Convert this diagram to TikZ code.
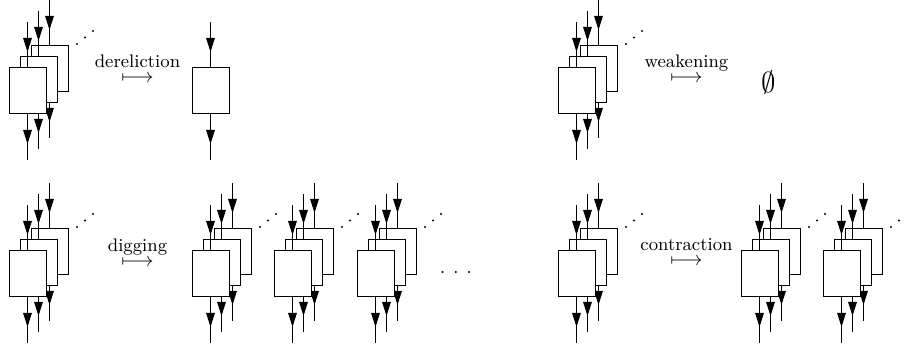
\documentclass[tikz,border=0pt]{standalone}
\usetikzlibrary{arrows.meta,decorations.markings}

\newcommand\lblfont{\fontsize{9.1}{11}\selectfont}
% label set above a long maps-to arrow; baseline is the arrow's
\newcommand\mapslabel[1]{\vbox{\baselineskip=7.5pt\lineskiplimit=-100pt\lineskip=0pt
  \halign{\hfil##\hfil\cr{\lblfont #1}\cr$\longmapsto$\cr}}}

\tikzset{
  cell/.style={draw, line width=0.5pt, fill=white, minimum width=18.5pt,
    minimum height=23pt, inner sep=0pt, outer sep=0pt},
  wire/.style={line width=0.45pt, postaction={decorate},
    decoration={markings,
      mark=at position 15pt with {\arrow{Triangle[length=7pt,width=4.3pt]}}}},
  rule/.style={inner sep=0pt, anchor=base},
  % a single box with one input and one output wire
  pics/promcell/.style={code={
    \coordinate (-in) at (0,69);
    \coordinate (-out) at (0,-69);
    \node[cell] (-f) at (0,0) {};
    \draw[wire] (-in) -- (-f);
    \draw[wire] (-f) -- (-out);
  }},
  % three stacked boxes, back to front, with a diagonal ellipsis
  pics/promstack/.style={code={
    \foreach \k/\n in {2/b,1/m,0/f}{
      \coordinate (-\n-in) at (11*\k, 11*\k+69);
      \coordinate (-\n-out) at (11*\k, 11*\k-69);
      \node[cell] (-\n) at (11*\k, 11*\k) {};
      \draw[wire] (-\n-in) -- (-\n);
      \draw[wire] (-\n) -- (-\n-out);
    }
    \foreach \dx/\dy in {49.5/47, 57.5/53.5, 65.5/60}
      \fill (\dx,\dy) circle[radius=0.55pt];
  }},
}

\begin{document}
\begin{tikzpicture}[x=0.5pt, y=0.5pt]
\useasboundingbox (0,0) rectangle (904,351);

% dereliction
\pic (A) at (27.5,260) {promstack};
\node[rule] (der) at (137.5,268) {\mapslabel{dereliction}};
\pic (D) at (210.5,260) {promcell};

% weakening
\pic (W) at (576.5,260) {promstack};
\node[rule] (weak) at (686.5,268) {\mapslabel{weakening}};
\node[inner sep=0pt] (empty) at (769,268) {\Large$\emptyset$};

% digging
\pic (B) at (27.5,77) {promstack};
\node[rule] (dig) at (137.5,84) {\mapslabel{digging}};
\pic (G1) at (210.5,77) {promstack};
\pic (G2) at (292.5,77) {promstack};
\pic (G3) at (375.5,77) {promstack};
\node[rule] (more) at (456,73)
  {$\cdotp\kern2.2pt\cdotp\kern2.2pt\cdotp$};

% contraction
\pic (C) at (576.5,77) {promstack};
\node[rule] (con) at (686.5,85) {\mapslabel{contraction}};
\pic (C1) at (759.5,77) {promstack};
\pic (C2) at (841.5,77) {promstack};
\end{tikzpicture}
\end{document}
